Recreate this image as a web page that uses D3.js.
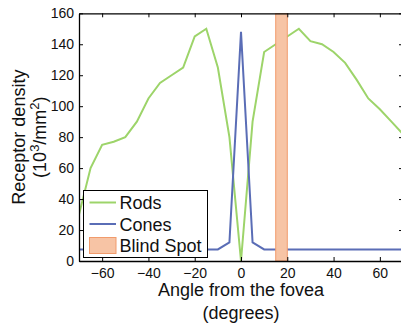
<!DOCTYPE html>
<html>
<head>
<meta charset="utf-8">
<script src="https://cdn.jsdelivr.net/npm/d3@7"></script>
<style>
  body { margin: 0; background: #fff; }
  svg { display: block; font-family: "Liberation Sans", Arial, sans-serif; }
</style>
</head>
<body>
<div id="chart"></div>
<script>
// Data
const angles = [-70, -65, -60, -55, -50, -45, -40, -35, -30, -25, -20, -15, -10, -5, 0,
                5, 10, 15, 20, 25, 30, 35, 40, 45, 50, 55, 60, 65, 70];
const rods = [30, 60, 75, 77, 80, 90, 105, 115, 120, 125, 145, 150, 125, 80, 0,
              90, 135, 140, 145, 150, 142, 140, 135, 128, 117, 105, 98, 90, 82];
const cones = [7.5, 7.5, 7.5, 7.5, 7.5, 7.5, 7.5, 7.5, 7.5, 7.5, 7.5, 7.5, 7.5, 12, 148,
               12, 7.5, 7.5, 7.5, 7.5, 7.5, 7.5, 7.5, 7.5, 7.5, 7.5, 7.5, 7.5, 7.5];
const blindSpot = [15, 20];
const xTicks = [-60, -40, -20, 0, 20, 40, 60];
const yTicks = [0, 20, 40, 60, 80, 100, 120, 140, 160];

const W = 401, H = 323;
const margin = { top: 13.3, right: -2, bottom: 62, left: 79 };
const width = W - margin.left - margin.right;
const height = H - margin.top - margin.bottom;

const rodColor = "#9dd46a";
const coneColor = "#5a6db6";
const spotFill = "#f7c4a5";
const spotStroke = "#f19b6c";

const svg = d3.select("#chart")
    .append("svg")
    .attr("width", W)
    .attr("height", H);

const g = svg.append("g")
    .attr("transform", `translate(${margin.left},${margin.top})`);

const x = d3.scaleLinear().domain([-70, 70]).range([0, width]);
const y = d3.scaleLinear().domain([0, 160]).range([height, 0]);

g.append("clipPath").attr("id", "clip")
    .append("rect").attr("width", width).attr("height", height);

const plot = g.append("g").attr("clip-path", "url(#clip)");

const line = series => d3.line()
    .x((d, i) => x(angles[i]))
    .y(d => y(d))(series);

// Rods
plot.append("path")
    .attr("d", line(rods))
    .attr("fill", "none")
    .attr("stroke", rodColor)
    .attr("stroke-width", 2);

// Cones
plot.append("path")
    .attr("d", line(cones))
    .attr("fill", "none")
    .attr("stroke", coneColor)
    .attr("stroke-width", 2);

// Blind spot band
plot.append("rect")
    .attr("x", x(blindSpot[0]))
    .attr("y", 0)
    .attr("width", x(blindSpot[1]) - x(blindSpot[0]))
    .attr("height", height)
    .attr("fill", spotFill)
    .attr("stroke", spotStroke)
    .attr("stroke-width", 1);

// Axes, matlab style: ticks inward, mirrored on top and right
const tickLen = 4;
const axisStyle = sel => {
    sel.select(".domain").attr("stroke", "#000").attr("stroke-width", 1.3);
    sel.selectAll(".tick line").attr("stroke", "#000").attr("stroke-width", 1);
    sel.selectAll("text").attr("fill", "#111").attr("font-size", "14px");
};

g.append("g")
    .attr("transform", `translate(0,${height})`)
    .call(d3.axisBottom(x).tickValues(xTicks).tickSizeInner(-tickLen).tickSizeOuter(0).tickPadding(7))
    .call(axisStyle);

g.append("g")
    .call(d3.axisTop(x).tickValues(xTicks).tickSizeInner(-tickLen).tickSizeOuter(0).tickFormat(""))
    .call(axisStyle);

g.append("g")
    .call(d3.axisLeft(y).tickValues(yTicks).tickSizeInner(-tickLen).tickSizeOuter(0).tickPadding(5))
    .call(axisStyle);

g.append("g")
    .attr("transform", `translate(${width},0)`)
    .call(d3.axisRight(y).tickValues(yTicks).tickSizeInner(-tickLen).tickSizeOuter(0).tickFormat(""))
    .call(axisStyle);

// Axis labels
const xLabel = svg.append("text")
    .attr("text-anchor", "middle")
    .attr("font-size", "18px")
    .attr("fill", "#111");
xLabel.append("tspan").attr("x", margin.left + width / 2).attr("y", 296).text("Angle from the fovea");
xLabel.append("tspan").attr("x", margin.left + width / 2).attr("y", 319).text("(degrees)");

const yLabel = svg.append("text")
    .attr("text-anchor", "middle")
    .attr("font-size", "18px")
    .attr("fill", "#111")
    .attr("transform", `translate(0,${margin.top + height / 2}) rotate(-90)`);
yLabel.append("tspan").attr("x", 0).attr("y", 25).text("Receptor density");
const unit = yLabel.append("tspan").attr("x", 0).attr("y", 46);
unit.append("tspan").text("(10");
unit.append("tspan").attr("baseline-shift", "super").attr("font-size", "13px").text("3");
unit.append("tspan").text("/mm");
unit.append("tspan").attr("baseline-shift", "super").attr("font-size", "13px").text("2");
unit.append("tspan").text(")");

// Legend
const legendItems = [
    { label: "Rods", type: "line", color: rodColor },
    { label: "Cones", type: "line", color: coneColor },
    { label: "Blind Spot", type: "rect", color: spotFill }
];
const legend = svg.append("g").attr("transform", "translate(83.5,190.5)");
legend.append("rect")
    .attr("width", 124)
    .attr("height", 67)
    .attr("fill", "#fff")
    .attr("stroke", "#000")
    .attr("stroke-width", 1);

legendItems.forEach((d, i) => {
    const cy = 12 + i * 21.5;
    if (d.type === "line") {
        legend.append("line")
            .attr("x1", 6).attr("x2", 32.5)
            .attr("y1", cy).attr("y2", cy)
            .attr("stroke", d.color)
            .attr("stroke-width", 2);
    } else {
        legend.append("rect")
            .attr("x", 6).attr("y", cy - 8)
            .attr("width", 26.5).attr("height", 16)
            .attr("fill", d.color)
            .attr("stroke", spotStroke)
            .attr("stroke-width", 1);
    }
    legend.append("text")
        .attr("x", 36)
        .attr("y", cy + 6.5)
        .attr("font-size", "18px")
        .attr("fill", "#111")
        .text(d.label);
});
</script>
</body>
</html>
